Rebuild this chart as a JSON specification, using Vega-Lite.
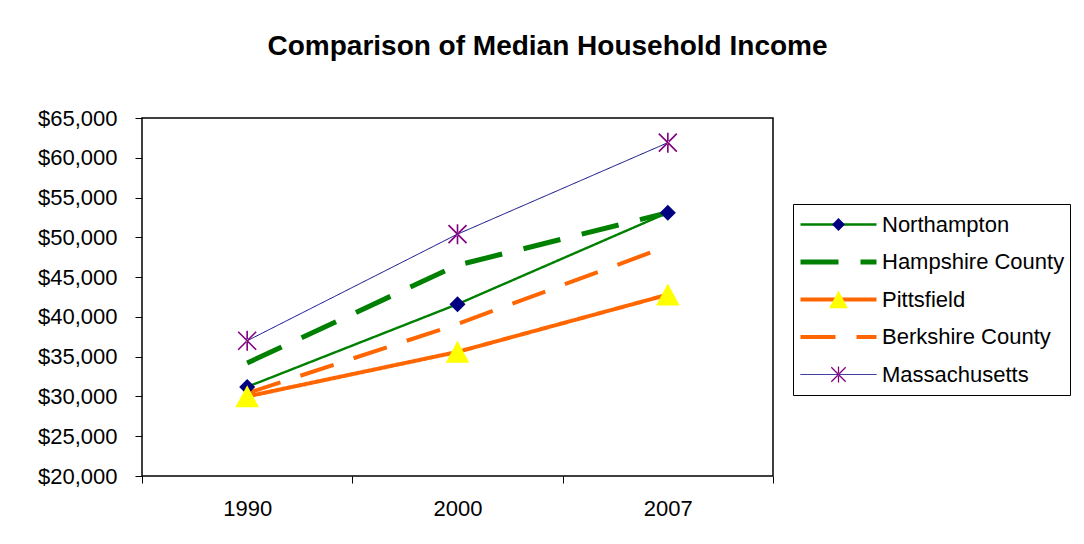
{
  "$schema": "https://vega.github.io/schema/vega-lite/v6.json",
  "width": 631,
  "height": 358,
  "autosize": "none",
  "padding": {"left": 142, "top": 118, "right": 311, "bottom": 68},
  "background": "white",
  "title": {
    "text": "Comparison of Median Household Income",
    "font": "Liberation Sans",
    "fontSize": 28,
    "fontWeight": "bold",
    "color": "black",
    "anchor": "middle",
    "dx": 90,
    "offset": 24,
    "baseline": "alphabetic"
  },
  "config": {
    "view": {"stroke": "black", "strokeWidth": 1.5},
    "legend": {"labelFont": "Liberation Sans"}
  },
  "data": {
    "values": [
      {"series": "Northampton", "year": "1990", "income": 31200},
      {"series": "Northampton", "year": "2000", "income": 41600},
      {"series": "Northampton", "year": "2007", "income": 53100},
      {"series": "Hampshire County", "year": "1990", "income": 34200},
      {"series": "Hampshire County", "year": "2000", "income": 46500},
      {"series": "Hampshire County", "year": "2007", "income": 53100},
      {"series": "Pittsfield", "year": "1990", "income": 30000},
      {"series": "Pittsfield", "year": "2000", "income": 35600},
      {"series": "Pittsfield", "year": "2007", "income": 42800},
      {"series": "Berkshire County", "year": "1990", "income": 30400},
      {"series": "Berkshire County", "year": "2000", "income": 39100},
      {"series": "Berkshire County", "year": "2007", "income": 48900},
      {"series": "Massachusetts", "year": "1990", "income": 37000},
      {"series": "Massachusetts", "year": "2000", "income": 50400},
      {"series": "Massachusetts", "year": "2007", "income": 61900}
    ]
  },
  "encoding": {
    "x": {
      "field": "year",
      "type": "nominal",
      "scale": {"type": "band", "paddingInner": 0, "paddingOuter": 0},
      "axis": {
        "title": null,
        "labelAngle": 0,
        "labelFont": "Liberation Sans",
        "labelFontSize": 22,
        "labelColor": "black",
        "tickBand": "extent",
        "tickSize": 7,
        "tickColor": "black",
        "domain": false,
        "labelPadding": 15
      }
    },
    "y": {
      "field": "income",
      "type": "quantitative",
      "scale": {"domain": [20000, 65000], "nice": false, "zero": false},
      "axis": {
        "title": null,
        "values": [20000, 25000, 30000, 35000, 40000, 45000, 50000, 55000, 60000, 65000],
        "format": "$,d",
        "labelFont": "Liberation Sans",
        "labelFontSize": 22,
        "labelColor": "black",
        "tickSize": 7,
        "tickColor": "black",
        "domain": false,
        "grid": false,
        "labelPadding": 18
      }
    }
  },
  "layer": [
    {
      "mark": {"type": "line"},
      "encoding": {
        "color": {
          "field": "series",
          "type": "nominal",
          "scale": {
            "domain": ["Northampton", "Hampshire County", "Pittsfield", "Berkshire County", "Massachusetts"],
            "range": ["#008000", "#008000", "#FF6600", "#FF6600", "#000080"]
          },
          "legend": {
            "title": null, "orient": "none", "legendX": 651, "legendY": 86,
            "symbolType": "stroke", "symbolSize": 5776,
            "labelFont": "Liberation Sans", "labelFontSize": 22, "labelColor": "black", "labelLimit": 400,
            "labelOffset": 3, "clipHeight": 31, "rowPadding": 6.5, "padding": 5,
            "strokeColor": "black",
            "encode": {
              "symbols": {
                "update": {
                  "strokeDash": {"scale": "strokeDash", "field": "value"},
                  "strokeWidth": {"scale": "strokeWidth", "field": "value"}
                }
              }
            }
          }
        },
        "strokeDash": {
          "field": "series",
          "type": "nominal",
          "scale": {
            "domain": ["Northampton", "Hampshire County", "Pittsfield", "Berkshire County", "Massachusetts"],
            "range": [[1, 0], [38, 22], [1, 0], [35, 21], [1, 0]]
          },
          "legend": null
        },
        "strokeWidth": {
          "field": "series",
          "type": "nominal",
          "scale": {
            "type": "ordinal",
            "domain": ["Northampton", "Hampshire County", "Pittsfield", "Berkshire County", "Massachusetts"],
            "range": [2.4, 5, 4, 4, 1]
          },
          "legend": null
        }
      }
    },
    {
      "mark": {"type": "point", "filled": true, "size": 400, "strokeWidth": 0, "opacity": 1},
      "encoding": {
        "fill": {
          "field": "series",
          "type": "nominal",
          "sort": ["Northampton", "Hampshire County", "Pittsfield", "Berkshire County", "Massachusetts"],
          "scale": {"range": ["#000080", "transparent", "#FFFF00", "transparent", "#800080"]},
          "legend": {
            "title": null, "orient": "none", "legendX": 651, "legendY": 86,
            "symbolSize": 256, "symbolStrokeWidth": 0, "symbolOffset": 29.5,
            "symbolType": {"expr": "scale('shape', datum.value)"},
            "labelFontSize": 22, "labelOpacity": 0, "labelLimit": 400, "labelExpr": "''",
            "clipHeight": 31, "rowPadding": 6.5, "padding": 5
          }
        },
        "shape": {
          "field": "series",
          "type": "nominal",
          "sort": ["Northampton", "Hampshire County", "Pittsfield", "Berkshire County", "Massachusetts"],
          "scale": {
            "range": [
              "M-0.8,0L0,-0.8L0.8,0L0,0.8Z",
              "circle",
              "M0,-1.12L1.18,1.08L-1.18,1.08Z",
              "circle",
              "M-0.08,-1L0.08,-1L0.08,1L-0.08,1ZM-0.843,-0.957L0.957,0.843L0.843,0.957L-0.957,-0.843ZM-0.843,0.957L0.957,-0.843L0.843,-0.957L-0.957,0.843Z"
            ]
          },
          "legend": null
        }
      }
    }
  ]
}
